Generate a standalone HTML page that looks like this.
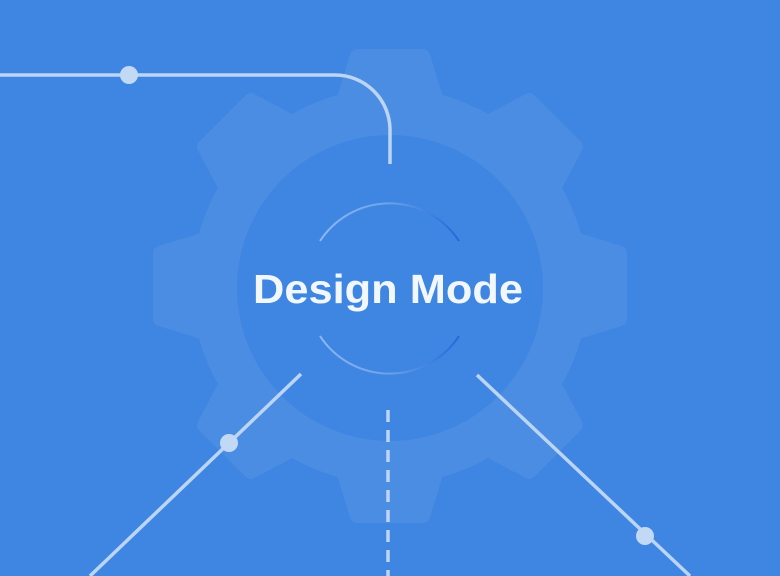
<!DOCTYPE html>
<html><head><style>
html,body{margin:0;padding:0;background:#3f86e2;}
svg{display:block}
</style></head><body>
<svg width="780" height="576" viewBox="0 0 780 576" xmlns="http://www.w3.org/2000/svg">
<defs>
<linearGradient id="ga" x1="0" y1="0" x2="1" y2="0">
<stop offset="0" stop-color="#8db8ef"/><stop offset="0.5" stop-color="#6aa2ea"/><stop offset="1" stop-color="#1f6ad8"/>
</linearGradient>
</defs>
<rect width="780" height="576" fill="#3f86e2"/>
<g fill="#4b8de3" stroke="#4b8de3" stroke-width="14" stroke-linejoin="round" transform="translate(390,286)">
<circle r="198" stroke="none"/>
<g id="t"><path d="M-50,-175 L-33,-230 L33,-230 L50,-175 Z"/></g>
<use href="#t" transform="rotate(45)"/>
<use href="#t" transform="rotate(90)"/>
<use href="#t" transform="rotate(135)"/>
<use href="#t" transform="rotate(180)"/>
<use href="#t" transform="rotate(225)"/>
<use href="#t" transform="rotate(270)"/>
<use href="#t" transform="rotate(315)"/>
</g>
<circle cx="390" cy="288" r="153" fill="#3f86e2"/>
<g fill="none" stroke="url(#ga)" stroke-width="2">
<path d="M320,241 A83,83 0 0 1 459,241"/>
<path d="M320,336 A83,83 0 0 0 459,336"/>
</g>
<g stroke="#bcd5f5" stroke-width="3.5" fill="none">
<path d="M0,75 H335 A55,55 0 0 1 390,130 V164"/>
<path d="M301,374 L90,576"/>
<path d="M477,375 L690,576"/>
<path d="M388,410 V576" stroke-dasharray="12,8"/>
</g>
<g fill="#c2d9f6">
<circle cx="129" cy="75" r="9"/>
<circle cx="229" cy="443" r="9"/>
<circle cx="645" cy="536" r="9"/>
</g>
<text x="388" y="303" text-anchor="middle" textLength="270" lengthAdjust="spacingAndGlyphs" font-family="Liberation Sans, sans-serif" font-weight="bold" font-size="41" fill="#f2f7fe">Design Mode</text>
</svg>
</body></html>
